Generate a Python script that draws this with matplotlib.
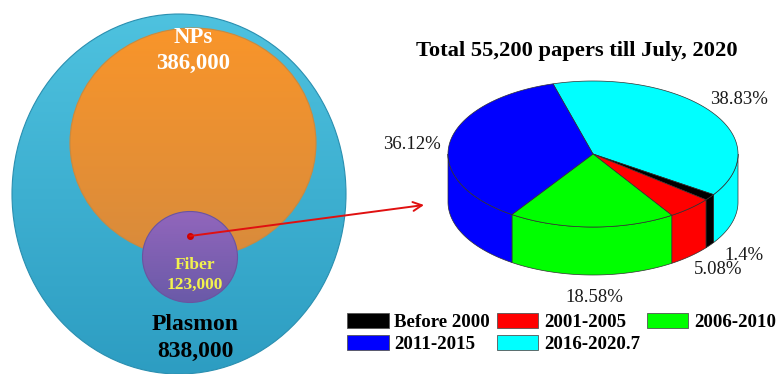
import numpy as np
import matplotlib
matplotlib.use("Agg")
import matplotlib.pyplot as plt
from matplotlib.patches import Ellipse, Polygon, Patch

# ---------------- data ----------------
venn_labels = ["Plasmon", "NPs", "Fiber"]
venn_counts = ["838,000", "386,000", "123,000"]

pie_labels = ["Before 2000", "2001-2005", "2006-2010", "2011-2015", "2016-2020.7"]
pie_values = [1.4, 5.08, 18.58, 36.12, 38.83]
pie_colors = ["#000000", "#ff0000", "#00ff00", "#0000ff", "#00ffff"]
pie_title = "Total 55,200 papers till July, 2020"

SERIF = "Liberation Serif"

fig = plt.figure(figsize=(7.79, 3.74), dpi=100)
ax = fig.add_axes([0, 0, 1, 1])
ax.set_xlim(0, 779)
ax.set_ylim(374, 0)
ax.axis("off")


def gradient_ellipse(cx, cy, w, h, top, bottom, z, edge):
    e = Ellipse((cx, cy), w, h, facecolor="none", edgecolor=edge, lw=0.8, zorder=z + 0.1)
    ax.add_patch(e)
    c1 = np.array(matplotlib.colors.to_rgb(top))
    c2 = np.array(matplotlib.colors.to_rgb(bottom))
    t = np.linspace(0, 1, 256)[:, None]
    img = (c1 * (1 - t) + c2 * t)[:, None, :]
    im = ax.imshow(img, extent=(cx - w / 2, cx + w / 2, cy + h / 2, cy - h / 2),
                   aspect="auto", zorder=z, interpolation="bilinear")
    clip = Ellipse((cx, cy), w, h, transform=ax.transData)
    im.set_clip_path(clip)
    return e


# ---------------- Venn-like circles ----------------
gradient_ellipse(179, 194, 334, 360, "#4ec2df", "#2d9dc2", 1, "#2a8fb0")
gradient_ellipse(193, 143, 246, 230, "#f9952a", "#d88b3c", 2, "#c98a40")
gradient_ellipse(190, 257, 95, 91, "#9266bc", "#6a5aa8", 3, "#6a54a0")

tk = dict(family=SERIF, weight="bold", ha="center", va="center", zorder=10)
ax.text(193, 37, venn_labels[1], color="white", fontsize=16.5, **tk)
ax.text(193, 63, venn_counts[1], color="white", fontsize=16.5, **tk)
ax.text(195, 324, venn_labels[0], color="black", fontsize=17, **tk)
ax.text(195, 351, venn_counts[0], color="black", fontsize=17, **tk)
ax.text(195, 265, venn_labels[2], color="#f2f24e", fontsize=12.5, **tk)
ax.text(195, 285, venn_counts[2], color="#f2f24e", fontsize=12.5, **tk)

# arrow
ax.plot(190, 236, "o", color="#d00000", ms=4, zorder=11)
ax.annotate("", xy=(424, 205), xytext=(190, 236),
            arrowprops=dict(arrowstyle="->", color="#e01010", lw=1.4,
                            mutation_scale=16, shrinkA=0, shrinkB=0), zorder=11)

# ---------------- 3D pie ----------------
cx, cy, a, b, depth = 593, 154, 145, 73, 48
start = 106.0
total = sum(pie_values)
# clockwise order: cyan, black, red, green, blue
order = [4, 0, 1, 2, 3]
bounds = {}
th = start
for i in order:
    span = 360.0 * pie_values[i] / total
    bounds[i] = (th - span, th)
    th -= span


def pt(t, dy=0.0):
    r = np.deg2rad(t)
    return cx + a * np.cos(r), cy - b * np.sin(r) + dy


edge_c = "#303030"
# sides
for i in order:
    t0, t1 = bounds[i]
    for off in (0, -360, 360):
        lo, hi = max(t0 + off, -180), min(t1 + off, 0)
        if hi > lo:
            ts = np.linspace(lo, hi, 80)
            top = [pt(t) for t in ts]
            bot = [pt(t, depth) for t in ts[::-1]]
            ax.add_patch(Polygon(top + bot, closed=True, facecolor=pie_colors[i],
                                 edgecolor=edge_c, lw=0.5, zorder=5))
# tops
for i in order:
    t0, t1 = bounds[i]
    ts = np.linspace(t0, t1, 120)
    poly = [(cx, cy)] + [pt(t) for t in ts]
    ax.add_patch(Polygon(poly, closed=True, facecolor=pie_colors[i],
                         edgecolor=edge_c, lw=0.5, zorder=6))

ax.text(577, 51, pie_title, family=SERIF, weight="bold", fontsize=16.2,
        ha="center", va="center", zorder=10)

lk = dict(family=SERIF, fontsize=13.5, ha="center", va="center", zorder=10, color="#1a1a1a")
ax.text(739, 99, f"{pie_values[4]:.2f}%", **lk)
ax.text(412, 144, f"{pie_values[3]:.2f}%", **lk)
ax.text(744, 255, f"{pie_values[0]:g}%", **lk)
ax.text(718, 269, f"{pie_values[1]:.2f}%", **lk)
ax.text(594, 297, f"{pie_values[2]:.2f}%", **lk)

# legend (row-major order via column-major reorder)
handles = [Patch(facecolor=pie_colors[i], edgecolor="#555555", lw=0.6, label=pie_labels[i])
           for i in range(5)]
leg_order = [0, 3, 1, 4, 2]
leg = ax.legend([handles[i] for i in leg_order], [pie_labels[i] for i in leg_order],
                ncol=3, loc="upper left", bbox_to_anchor=(334, 300),
                bbox_transform=ax.transData, frameon=False,
                prop=dict(family=SERIF, weight="bold", size=13.6),
                handlelength=2.2, handleheight=0.85, handletextpad=0.3,
                columnspacing=0.35, labelspacing=0.2, borderpad=0.2)

fig.savefig("out.png", dpi=100, facecolor="white")
